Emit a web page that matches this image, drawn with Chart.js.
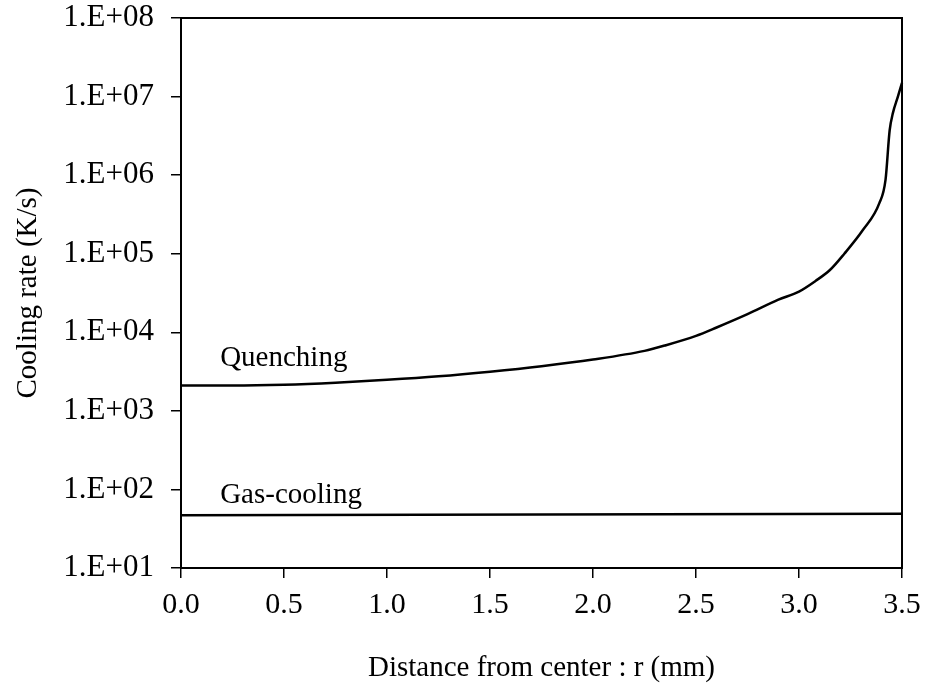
<!DOCTYPE html>
<html>
<head>
<meta charset="utf-8">
<script src="https://cdn.jsdelivr.net/npm/chart.js@4/dist/chart.umd.min.js"></script>
<style>
  html, body { margin: 0; padding: 0; background: #fff; }
  #wrap { width: 929px; height: 694px; }
</style>
</head>
<body>
<div id="wrap"><canvas id="c" width="929" height="694"></canvas></div>
<script>
// ---- data ----
const quenchR    = [0.0, 0.25, 0.5, 0.75, 1.0, 1.25, 1.5, 1.75, 2.0, 2.25, 2.35, 2.5, 2.6, 2.75, 2.9, 3.0, 3.08, 3.15, 3.22, 3.31, 3.39, 3.42, 3.44, 3.456, 3.48, 3.5];
const quenchRate = [2100, 2100, 2150, 2280, 2480, 2750, 3150, 3700, 4500, 5800, 6800, 9000, 11500, 17000, 26000, 33000, 45000, 62000, 100000, 200000, 440000, 870000, 3700000, 6200000, 10000000, 15000000];
const gasR       = [0.0, 3.5];
const gasRate    = [47, 49];

const xTickValues = [0, 0.5, 1, 1.5, 2, 2.5, 3, 3.5];
const xTickLabels = ["0.0", "0.5", "1.0", "1.5", "2.0", "2.5", "3.0", "3.5"];
const yTickValues = [1e1, 1e2, 1e3, 1e4, 1e5, 1e6, 1e7, 1e8];
const yTickLabels = ["1.E+01", "1.E+02", "1.E+03", "1.E+04", "1.E+05", "1.E+06", "1.E+07", "1.E+08"];

const seriesNames = ["Quenching", "Gas-cooling"];
const seriesLabelAt = [ { x: 0.19, y: 3720 }, { x: 0.19, y: 67 } ];

const FONT = "'Liberation Serif', 'Times New Roman', serif";

function toPoints(xs, ys) { return xs.map((x, i) => ({ x: x, y: ys[i] })); }

const boxPlugin = {
  id: 'box',
  afterDatasetsDraw(chart) {
    const { ctx, chartArea: a } = chart;
    ctx.save();
    ctx.strokeStyle = '#000';
    ctx.lineWidth = 2;
    ctx.strokeRect(a.left, a.top, a.right - a.left, a.bottom - a.top);
    ctx.restore();
  }
};

const seriesLabelPlugin = {
  id: 'seriesLabels',
  afterDatasetsDraw(chart) {
    const { ctx, scales } = chart;
    ctx.save();
    ctx.fillStyle = '#000';
    ctx.font = "29px " + FONT;
    ctx.textAlign = 'left';
    ctx.textBaseline = 'alphabetic';
    seriesNames.forEach((name, i) => {
      const p = seriesLabelAt[i];
      ctx.fillText(name, scales.x.getPixelForValue(p.x), scales.y.getPixelForValue(p.y));
    });
    ctx.restore();
  }
};

new Chart(document.getElementById('c'), {
  type: 'line',
  data: {
    datasets: [
      {
        label: seriesNames[0],
        data: toPoints(quenchR, quenchRate),
        borderColor: '#000',
        borderWidth: 2.5,
        pointRadius: 0,
        cubicInterpolationMode: 'monotone',
        fill: false
      },
      {
        label: seriesNames[1],
        data: toPoints(gasR, gasRate),
        borderColor: '#000',
        borderWidth: 2.5,
        pointRadius: 0,
        fill: false
      }
    ]
  },
  options: {
    responsive: false,
    animation: false,
    clip: false,
    layout: { padding: { top: 18, right: 27, left: 0, bottom: 0 } },
    plugins: { legend: { display: false }, tooltip: { enabled: false } },
    scales: {
      x: {
        type: 'linear',
        min: 0, max: 3.5,
        afterBuildTicks(scale) { scale.ticks = xTickValues.map(v => ({ value: v })); },
        afterFit(scale) { scale.height = 126; scale.paddingLeft = 0; scale.paddingRight = 0; },
        ticks: {
          color: '#000',
          font: { family: FONT, size: 30 },
          padding: 9,
          maxRotation: 0,
          autoSkip: false,
          callback(value) { const i = xTickValues.indexOf(value); return i >= 0 ? xTickLabels[i] : ''; }
        },
        grid: { display: true, drawOnChartArea: false, tickLength: 10, color: '#000', lineWidth: 1.5 },
        border: { display: true, color: '#000', width: 2 },
        title: {
          display: true,
          text: 'Distance from center : r (mm)',
          color: '#000',
          font: { family: FONT, size: 29 },
          padding: { top: 0, bottom: 8 }
        }
      },
      y: {
        type: 'logarithmic',
        min: 1e1, max: 1e8,
        afterBuildTicks(scale) { scale.ticks = yTickValues.map(v => ({ value: v })); },
        afterFit(scale) { scale.width = 181; scale.paddingTop = 0; scale.paddingBottom = 0; },
        ticks: {
          color: '#000',
          font: { family: FONT, size: 31 },
          padding: 17,
          autoSkip: false,
          callback(value) { const i = yTickValues.indexOf(value); return i >= 0 ? yTickLabels[i] : ''; }
        },
        grid: { display: true, drawOnChartArea: false, tickLength: 10, color: '#000', lineWidth: 1.5 },
        border: { display: true, color: '#000', width: 2 },
        title: {
          display: true,
          text: 'Cooling rate (K/s)',
          color: '#000',
          font: { family: FONT, size: 29 },
          padding: { top: 11, bottom: 0 }
        }
      }
    }
  },
  plugins: [boxPlugin, seriesLabelPlugin]
});
</script>
</body>
</html>
